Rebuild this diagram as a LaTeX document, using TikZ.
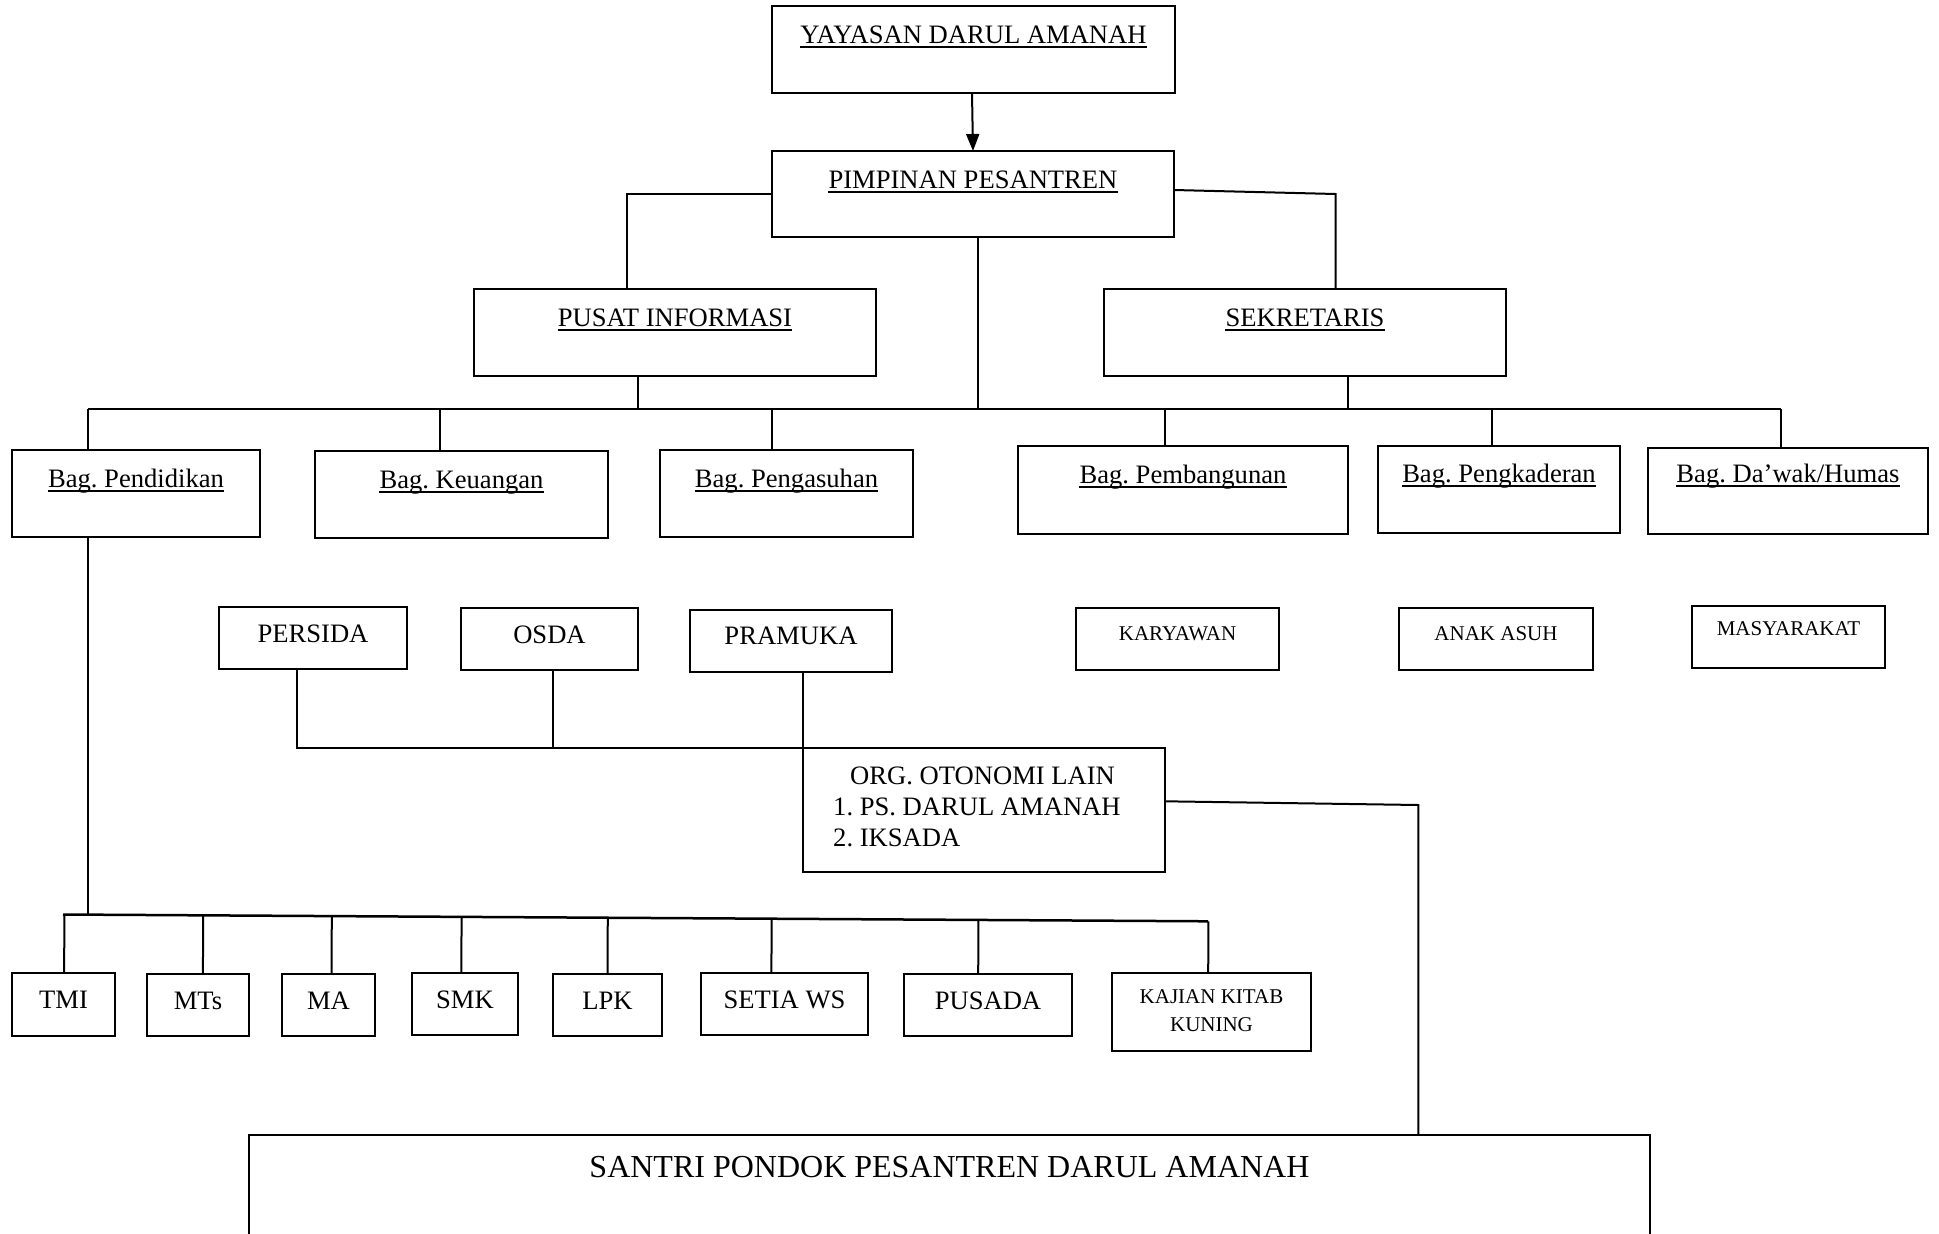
\documentclass[tikz,border=0pt]{standalone}
\usepackage{fontspec}
\setmainfont{Liberation Serif}
\usetikzlibrary{arrows.meta,calc}
\frenchspacing
\tikzset{
  box/.style={draw, line width=2.1pt, inner sep=0pt, outer sep=0pt, anchor=north west},
  lbl/.style={anchor=base, inner sep=0pt, font=\fontsize{26.6}{30}\selectfont},
  slbl/.style={anchor=base, inner sep=0pt, font=\fontsize{21}{25}\selectfont},
  blbl/.style={anchor=base, inner sep=0pt, font=\fontsize{32}{38}\selectfont},
  conn/.style={line width=2pt},
  bus/.style={line width=2.5pt},
  arr/.style={line width=2pt, -{Triangle[length=17pt,width=13pt]}},
  ulline/.style={line width=2pt},
}
\newcommand\obox[8]{%
  \node[box, minimum width={#4-#2}, minimum height={#5-#3}] (#1) at (#2,#3) {};
  \node[#7] (#1-t) at ({(#2+#4)/2},#6) {#8};}
\newcommand\ulbox[1]{\draw[ulline] ([yshift=-3.5pt]#1-t.base west) -- ([yshift=-3.5pt]#1-t.base east);}
\begin{document}
\begin{tikzpicture}[x=1pt,y=-1pt]
\useasboundingbox (0,0) rectangle (1939,1234);
\clip (0,0) rectangle (1939,1234);
\fill[white] (0,0) rectangle (1939,1234);
% top level
\obox{yay}{772}{6}{1175}{93}{43}{lbl}{YAYASAN DARUL AMANAH}\ulbox{yay}
\obox{pim}{772}{151}{1174}{237}{188}{lbl}{PIMPINAN PESANTREN}\ulbox{pim}
\obox{pus}{474}{289}{876}{376}{326}{lbl}{PUSAT INFORMASI}\ulbox{pus}
\obox{sek}{1104}{289}{1506}{376}{326}{lbl}{SEKRETARIS}\ulbox{sek}
% bagian
\obox{pend}{12}{450}{260}{537}{487}{lbl}{Bag. Pendidikan}\ulbox{pend}
\obox{keu}{315}{451}{608}{538}{488}{lbl}{Bag. Keuangan}\ulbox{keu}
\obox{asuh}{660}{450}{913}{537}{487}{lbl}{Bag. Pengasuhan}\ulbox{asuh}
\obox{bang}{1018}{446}{1348}{534}{483}{lbl}{Bag. Pembangunan}\ulbox{bang}
\obox{kader}{1378}{446}{1620}{533}{482}{lbl}{Bag. Pengkaderan}\ulbox{kader}
\obox{humas}{1648}{448}{1928}{534}{482}{lbl}{Bag. Da’wak/Humas}\ulbox{humas}
% row 2
\obox{pers}{219}{607}{407}{669}{642}{lbl}{PERSIDA}
\obox{osda}{461}{608}{638}{670}{643}{lbl}{OSDA}
\obox{pram}{690}{610}{892}{672}{644}{lbl}{PRAMUKA}
\obox{kary}{1076}{608}{1279}{670}{640}{slbl}{KARYAWAN}
\obox{anak}{1399}{608}{1593}{670}{640}{slbl}{ANAK ASUH}
\obox{masy}{1692}{606}{1885}{668}{635}{slbl}{MASYARAKAT}
% org otonomi
\node[box, minimum width={1165-803}, minimum height={872-748}] (org) at (803,748) {};
\node[lbl, anchor=base west] (org-t1) at (850,784) {ORG. OTONOMI LAIN};
\node[lbl, anchor=base west] (org-t2) at (833,815) {1. PS. DARUL AMANAH};
\node[lbl, anchor=base west] (org-t3) at (833,846) {2. IKSADA};
% lower row
\obox{tmi}{12}{973}{115}{1036}{1008}{lbl}{TMI}
\obox{mts}{147}{974}{249}{1036}{1009}{lbl}{MTs}
\obox{ma}{282}{974}{375}{1036}{1009}{lbl}{MA}
\obox{smk}{412}{973}{518}{1035}{1008}{lbl}{SMK}
\obox{lpk}{553}{974}{662}{1036}{1009}{lbl}{LPK}
\obox{setia}{701}{973}{868}{1035}{1008}{lbl}{SETIA WS}
\obox{pusada}{904}{974}{1072}{1036}{1009}{lbl}{PUSADA}
\node[box, minimum width={1311-1112}, minimum height={1051-973}] (kaj) at (1112,973) {};
\node[slbl] (kaj-t1) at (1211.5,1003) {KAJIAN KITAB};
\node[slbl] (kaj-t2) at (1211.5,1031) {KUNING};
% santri
\obox{san}{249}{1135}{1650}{1270}{1177}{blbl}{SANTRI PONDOK PESANTREN DARUL AMANAH}
% connectors top
\draw[arr] ([xshift=-1.5pt]yay.south) -- (pim.north);
\draw[conn] (pim.west) -| ([xshift=-48pt]pus.north);
\coordinate (sekj) at ([xshift=30.5pt]sek.north);
\draw[conn] ([yshift=4pt]pim.east) -- (pim.east -| sekj) -- (sekj);
\coordinate (busL) at (88,409);
\coordinate (busR) at (1781,409);
\coordinate (dpim) at ([xshift=5pt]pim.south);
\coordinate (dpus) at ([xshift=-37pt]pus.south);
\coordinate (dsek) at ([xshift=43pt]sek.south);
\draw[conn] (dpim) -- (dpim |- busL);
\draw[conn] (dpus) -- (dpus |- busL);
\draw[conn] (dsek) -- (dsek |- busL);
\draw[bus] (busL) -- (busR);
\foreach \n/\s in {pend/-48.2pt, keu/-21.7pt, asuh/-14.9pt, bang/-17.9pt, kader/-7.5pt, humas/-7.5pt}{
  \coordinate (d\n) at ([xshift=\s]\n.north);
  \draw[conn] (d\n) -- (d\n |- busL);
}
% pendidikan to schools
\coordinate (bl) at (63,914.5);
\coordinate (br) at (1208.2,921.3);
\coordinate (pendb) at ([xshift=-48.2pt]pend.south);
\draw[conn] (pendb) -- (pendb |- bl);
\draw[bus] (bl) -- (br);
\foreach \n/\s in {tmi/0.6pt, mts/4.9pt, ma/3pt, smk/-3.7pt, lpk/0pt, setia/-13.1pt, pusada/-9.8pt, kaj/-3.3pt}{
  \coordinate (u\n) at ([xshift=\s]\n.north);
  \draw[conn] (u\n) -- ($(bl)!(u\n)!(br)$);
}
% row 2 to org
\coordinate (dpers) at ([xshift=-16.1pt]pers.south);
\draw[conn] (dpers) |- (org.north west);
\coordinate (dosda) at ([xshift=3.1pt]osda.south);
\draw[conn] (dosda) -- (dosda |- org.north);
\draw[conn] (pram.south -| org.west) -- (org.north west);
% org to santri
\coordinate (oj) at (1418.4,805);
\draw[conn] ([yshift=8.7pt]org.east) -- (oj) -- (oj |- san.north);
\end{tikzpicture}
\end{document}
